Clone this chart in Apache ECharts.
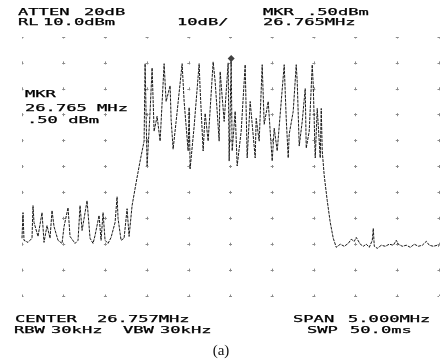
<!DOCTYPE html>
<html>
<head>
<meta charset="utf-8">
<script src="https://cdn.jsdelivr.net/npm/echarts@6/dist/echarts.min.js"></script>
<style>
  html, body { margin: 0; padding: 0; background: #fff; }
  #chart { width: 442px; height: 360px; }
</style>
</head>
<body>
<div id="chart"></div>
<script>
// Analyzer settings
const CENTER_MHZ = 26.757;
const SPAN_MHZ = 5.0;
const REF_LEVEL_DBM = 10;
const DB_PER_DIV = 10;
const DIVISIONS = 10;
const MKR_FREQ_MHZ = 26.765;
const MKR_LEVEL_DBM = 0.5;

// Swept trace: frequency (MHz) and level (dBm)
const freqMHz = [
  24.257, 24.269, 24.281, 24.329, 24.377, 24.389, 24.401, 24.449, 24.497, 24.521,
  24.557, 24.593, 24.617, 24.641, 24.689, 24.737, 24.761, 24.809, 24.833, 24.893,
  24.929, 24.953, 24.977, 25.037, 25.073, 25.109, 25.133, 25.181, 25.205, 25.229,
  25.253, 25.289, 25.325, 25.373, 25.397, 25.409, 25.445, 25.481, 25.517, 25.541,
  25.577, 25.625, 25.673, 25.721, 25.733, 25.757, 25.793, 25.817, 25.841, 25.877,
  25.913, 25.961, 25.985, 26.033, 26.045, 26.069, 26.105, 26.177, 26.201, 26.249,
  26.261, 26.273, 26.321, 26.381, 26.393, 26.429, 26.453, 26.489, 26.549, 26.573,
  26.621, 26.633, 26.681, 26.729, 26.741, 26.765, 26.777, 26.813, 26.837, 26.885,
  26.933, 26.957, 26.993, 27.053, 27.065, 27.101, 27.137, 27.161, 27.209, 27.257,
  27.281, 27.317, 27.401, 27.425, 27.449, 27.461, 27.509, 27.545, 27.557, 27.581,
  27.617, 27.653, 27.665, 27.701, 27.737, 27.749, 27.773, 27.797, 27.833, 27.845,
  27.857, 27.881, 27.917, 27.953, 27.989, 28.025,
  28.073, 28.121, 28.169, 28.205, 28.241, 28.265, 28.313, 28.349, 28.385, 28.421,
  28.457, 28.469, 28.481, 28.517, 28.565, 28.613, 28.661, 28.709, 28.745, 28.769,
  28.817, 28.865, 28.913, 28.961, 29.009, 29.057, 29.105, 29.141, 29.189, 29.237,
  29.257
];
const levelDbm = [
  -67.7, -57.8, -68.5, -69.3, -67.7, -55.1, -61.6, -67.0, -57.8, -69.3,
  -62.8, -67.7, -57.0, -63.2, -68.5, -69.7, -63.2, -55.9, -67.0, -69.7,
  -68.5, -55.1, -64.7, -53.2, -67.7, -69.7, -66.6, -58.9, -68.5, -57.8,
  -68.5, -69.7, -67.4, -61.6, -51.7, -60.1, -68.5, -67.7, -56.3, -67.0,
  -55.1, -46.3, -37.9, -30.2, -0.3, -39.8, -18.7, -1.9, -26.4, -20.6,
  -30.2, -0.3, -14.9, -8.8, -21.8, -33.3, -22.6, -0.3, -14.9, -34.0,
  -17.2, -40.9, -24.5, -0.3, -10.3, -34.0, -19.5, -30.2, 0.4, -7.2,
  -30.2, -3.4, -22.6, 0.0, -37.9, 0.5, -34.0, -18.7, -39.8, -26.4,
  -0.7, -36.7, -14.9, -36.7, -21.4, -30.2, -0.7, -23.7, -14.9, -37.9,
  -25.2, -34.0, -0.7, -21.4, -36.7, -27.5, -18.7, -0.7, -7.2, -32.1,
  -22.6, -9.9, -32.9, -26.4, -0.7, -8.4, -36.7, -17.6, -36.7, -17.6,
  -34.0, -43.6, -53.2, -61.6, -67.7, -71.2,
  -70.0, -70.8, -69.7, -68.1, -68.9, -67.4, -70.0, -70.8, -70.0, -71.2,
  -68.5, -63.9, -70.8, -71.6, -70.4, -70.8, -70.0, -70.4, -68.5, -70.0,
  -70.8, -70.4, -71.2, -70.0, -70.8, -70.4, -68.9, -70.4, -70.8, -70.4,
  -70.8
];

// Screen annotations
const headerLeft = ['ATTEN', '20dB', 'RL', '10.0dBm'];
const headerMid = ['10dB/'];
const headerRight = ['MKR', '.50dBm', '26.765MHz'];
const markerBox = ['MKR', '26.765 MHz', '.50 dBm'];
const footer = ['CENTER', '26.757MHz', 'RBW', '30kHz', 'VBW', '30kHz', 'SPAN', '5.000MHz', 'SWP', '50.0ms'];
const caption = '(a)';

const traceData = freqMHz.map((f, i) => [f - CENTER_MHZ, levelDbm[i]]);

const FONT = '9.5px "DejaVu Sans Mono"';
const SX = 1.8;
function txt(text, x, y) {
  return {
    type: 'text', x: x, y: y, scaleX: SX, scaleY: 1,
    style: { text: text, font: FONT, fill: '#000', stroke: '#000', lineWidth: 0.25, textAlign: 'left', textVerticalAlign: 'middle' }
  };
}

const chart = echarts.init(document.getElementById('chart'), null, { renderer: 'canvas' });

// Graticule: short crosses at each division intersection
const PLOT_W = 417, PLOT_H = 259;
const colStep = PLOT_W / DIVISIONS, rowStep = PLOT_H / DIVISIONS;

chart.setOption({
  animation: false,
  backgroundColor: '#fff',
  grid: { left: 22, right: 3, top: 37, bottom: 64 },
  xAxis: {
    type: 'value',
    min: -SPAN_MHZ / 2,
    max: SPAN_MHZ / 2,
    interval: SPAN_MHZ / DIVISIONS,
    axisLine: { show: false },
    axisTick: { show: false },
    axisLabel: { show: false },
    splitLine: { show: true, lineStyle: { color: '#8a8a8a', width: 1, type: [3, rowStep - 3], dashOffset: 1.5 } }
  },
  yAxis: {
    type: 'value',
    min: REF_LEVEL_DBM - DB_PER_DIV * DIVISIONS,
    max: REF_LEVEL_DBM,
    interval: DB_PER_DIV,
    axisLine: { show: false },
    axisTick: { show: false },
    axisLabel: { show: false },
    splitLine: { show: true, lineStyle: { color: '#8a8a8a', width: 1, type: [3, colStep - 3], dashOffset: 1.5 } }
  },
  series: [
    {
      type: 'line',
      data: traceData,
      showSymbol: false,
      symbol: 'none',
      lineStyle: { color: '#1a1a1a', width: 1, type: [3, 1] },
      z: 3
    },
    {
      type: 'scatter',
      data: [[MKR_FREQ_MHZ - CENTER_MHZ, MKR_LEVEL_DBM]],
      symbol: 'diamond',
      symbolSize: 7,
      symbolOffset: [0, -3],
      itemStyle: { color: '#111' },
      z: 4
    }
  ],
  graphic: [
    txt(headerLeft[0], 18, 13),
    txt(headerLeft[1], 84, 13),
    txt(headerLeft[2], 18, 23),
    txt(headerLeft[3], 43, 23),
    txt(headerMid[0], 177, 23),
    txt(headerRight[0], 263, 13),
    txt(headerRight[1], 307, 13),
    txt(headerRight[2], 263, 23),
    txt(markerBox[0], 25, 95),
    txt(markerBox[1], 25, 109),
    txt(markerBox[2], 27, 121),
    txt(footer[0], 15, 320),
    txt(footer[1], 97, 320),
    txt(footer[2], 14, 331),
    txt(footer[3], 51, 331),
    txt(footer[4], 123, 331),
    txt(footer[5], 160, 331),
    txt(footer[6], 293, 320),
    txt(footer[7], 348, 320),
    txt(footer[8], 307, 331),
    txt(footer[9], 350, 331),
    {
      type: 'text', x: 221, y: 351,
      style: { text: caption, font: '15px "Liberation Serif"', fill: '#111', textAlign: 'center', textVerticalAlign: 'middle' }
    }
  ]
});
</script>
</body>
</html>
